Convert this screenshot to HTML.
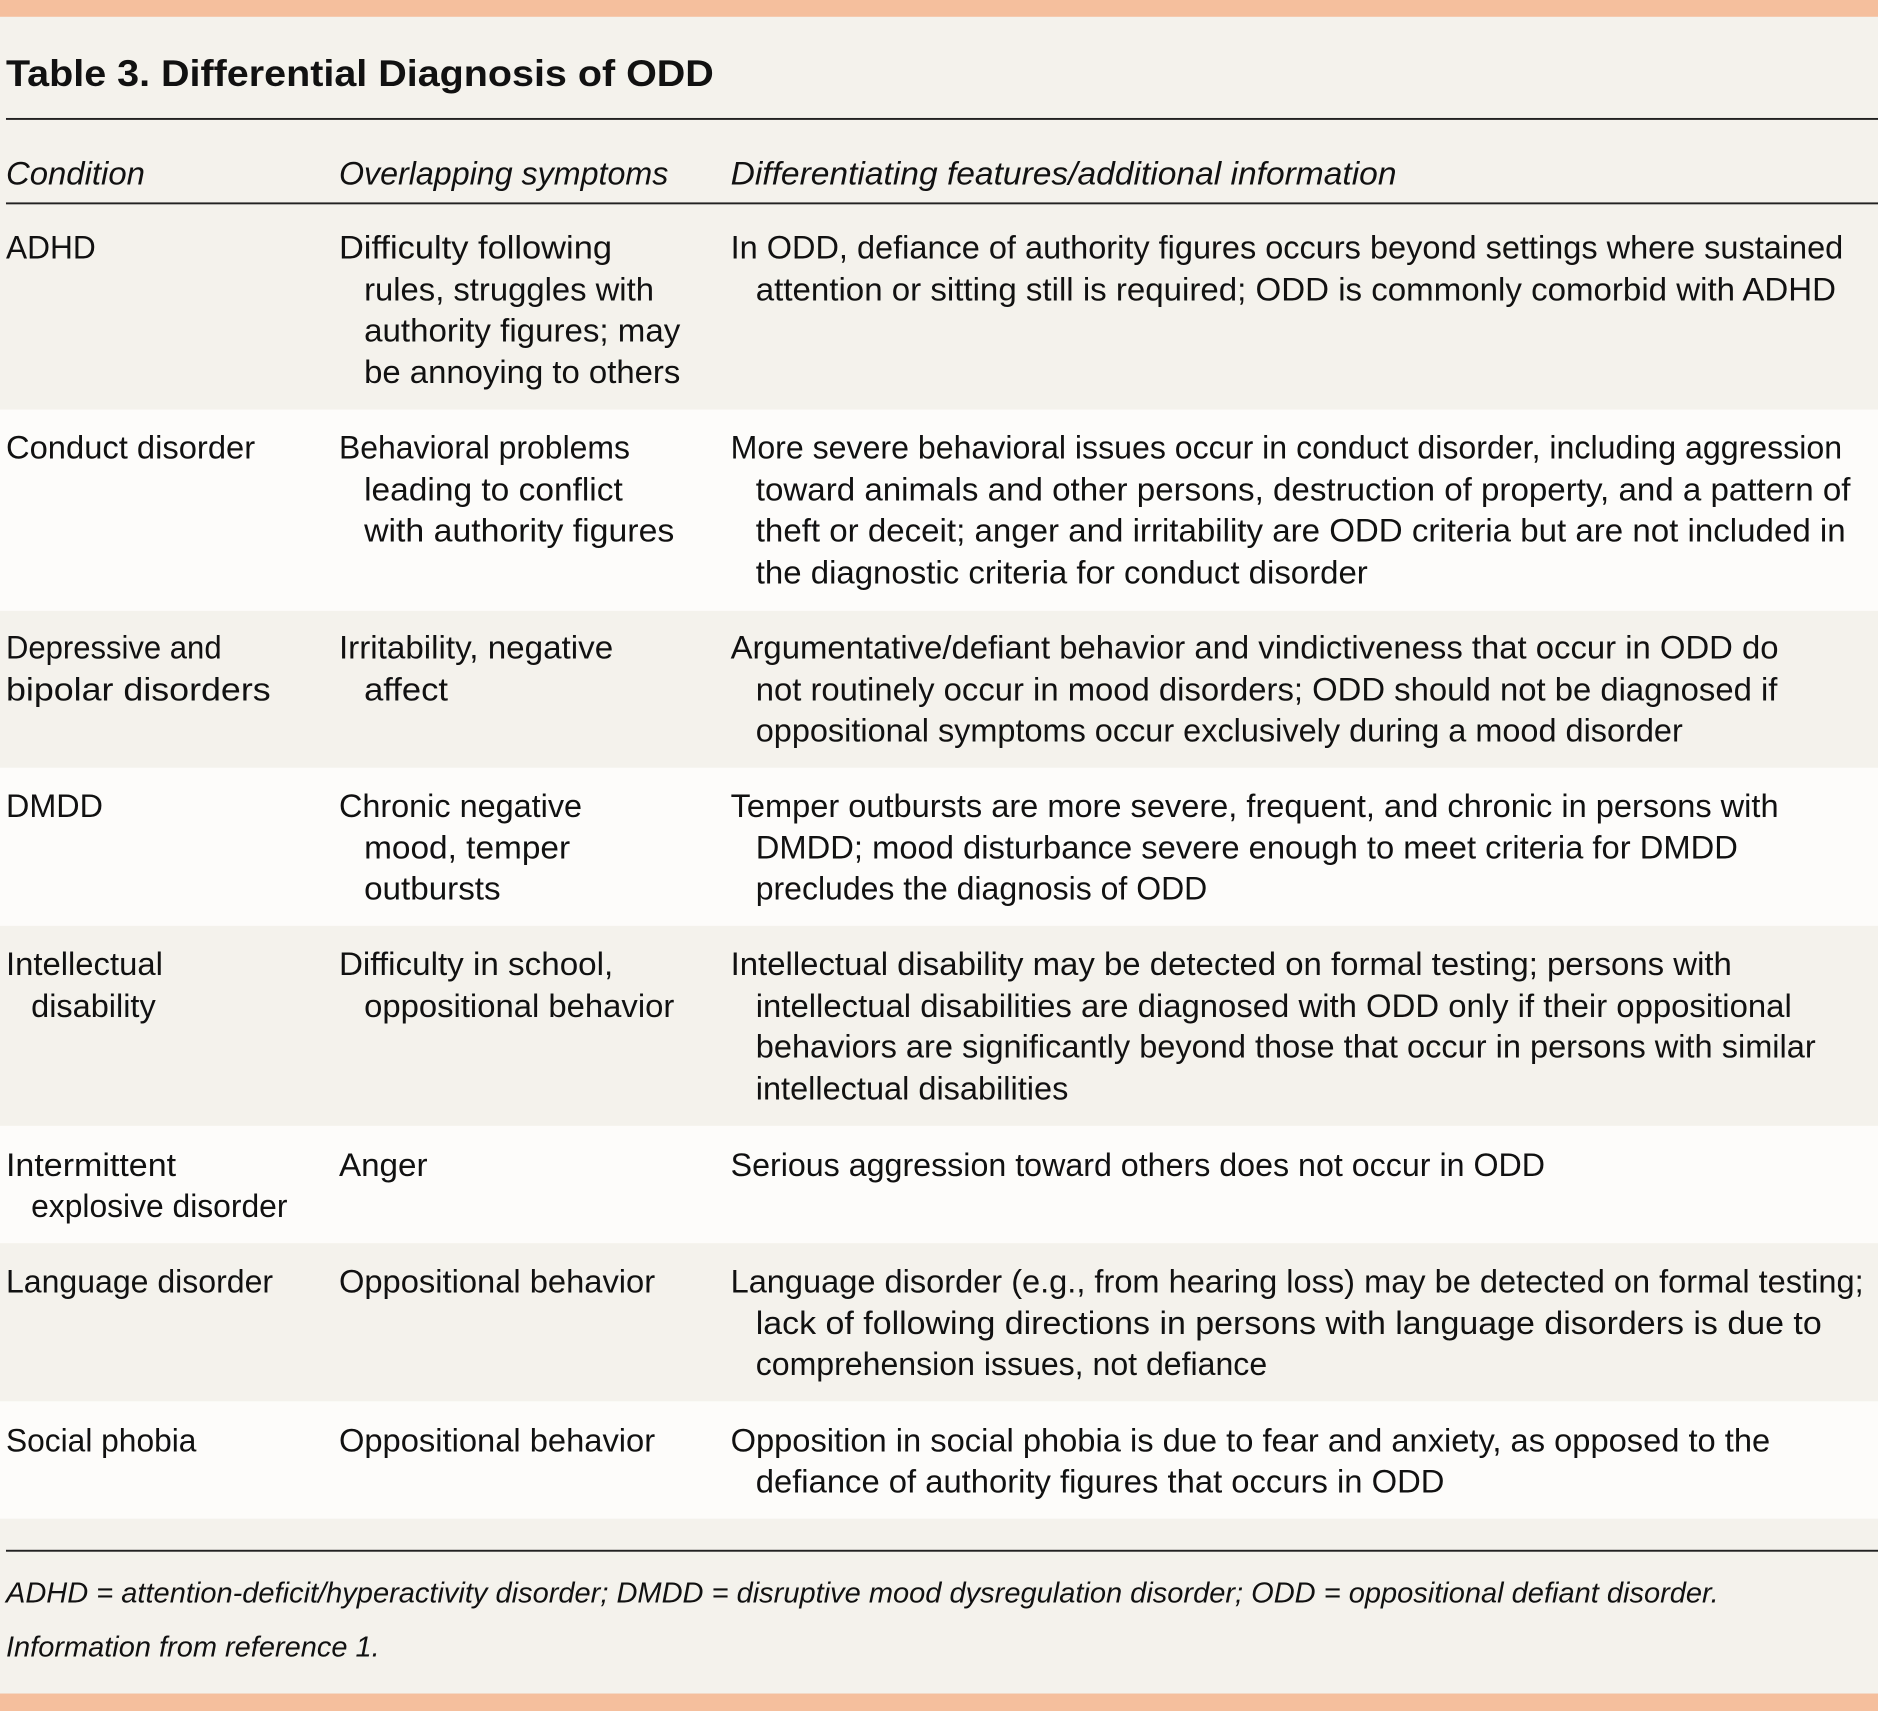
<!DOCTYPE html>
<html><head><meta charset="utf-8"><style>
html,body{margin:0;padding:0;background:#f4f2ec;}
svg{display:block;}
text{font-family:"Liberation Sans",sans-serif;font-size:27px;fill:#111;}
.i{font-style:italic;}
.b{font-weight:bold;font-size:31px;}
</style></head><body>
<svg width="1878" height="1711" viewBox="0 0 1568 1428.6" preserveAspectRatio="none" xmlns="http://www.w3.org/2000/svg">
<rect x="0" y="0" width="1568" height="1428.6" fill="#f4f2ec"/>
<rect x="0" y="0" width="1568" height="14" fill="#f5bf9d"/>
<rect x="0" y="1414" width="1568" height="15" fill="#f5bf9d"/>
<rect x="0" y="342" width="1568" height="168" fill="#fdfcfa"/>
<rect x="0" y="641" width="1568" height="132" fill="#fdfcfa"/>
<rect x="0" y="940" width="1568" height="98" fill="#fdfcfa"/>
<rect x="0" y="1170" width="1568" height="98" fill="#fdfcfa"/>
<rect x="5" y="98.5" width="1563" height="1.6" fill="#222"/>
<rect x="5" y="169" width="1563" height="1.6" fill="#222"/>
<rect x="5" y="1294" width="1563" height="1.6" fill="#222"/>

<g>
<text class="b" x="5" y="72" textLength="591" lengthAdjust="spacingAndGlyphs">Table 3. Differential Diagnosis of ODD</text>

<text class="i" x="5" y="154" textLength="116" lengthAdjust="spacingAndGlyphs">Condition</text>
<text class="i" x="283" y="154" textLength="275" lengthAdjust="spacingAndGlyphs">Overlapping symptoms</text>
<text class="i" x="610" y="154" textLength="556" lengthAdjust="spacingAndGlyphs">Differentiating features/additional information</text>

<text x="5" y="216" textLength="75" lengthAdjust="spacingAndGlyphs">ADHD</text>
<text x="283" y="216" textLength="228" lengthAdjust="spacingAndGlyphs">Difficulty following</text>
<text x="304" y="251" textLength="242" lengthAdjust="spacingAndGlyphs">rules, struggles with</text>
<text x="304" y="285" textLength="264" lengthAdjust="spacingAndGlyphs">authority figures; may</text>
<text x="304" y="320" textLength="264" lengthAdjust="spacingAndGlyphs">be annoying to others</text>
<text x="610" y="216" textLength="929" lengthAdjust="spacingAndGlyphs">In ODD, defiance of authority figures occurs beyond settings where sustained</text>
<text x="631" y="251" textLength="902" lengthAdjust="spacingAndGlyphs">attention or sitting still is required; ODD is commonly comorbid with ADHD</text>

<text x="5" y="383" textLength="208" lengthAdjust="spacingAndGlyphs">Conduct disorder</text>
<text x="283" y="383" textLength="243" lengthAdjust="spacingAndGlyphs">Behavioral problems</text>
<text x="304" y="418" textLength="216" lengthAdjust="spacingAndGlyphs">leading to conflict</text>
<text x="304" y="452" textLength="259" lengthAdjust="spacingAndGlyphs">with authority figures</text>
<text x="610" y="383" textLength="928" lengthAdjust="spacingAndGlyphs">More severe behavioral issues occur in conduct disorder, including aggression</text>
<text x="631" y="418" textLength="914" lengthAdjust="spacingAndGlyphs">toward animals and other persons, destruction of property, and a pattern of</text>
<text x="631" y="452" textLength="910" lengthAdjust="spacingAndGlyphs">theft or deceit; anger and irritability are ODD criteria but are not included in</text>
<text x="631" y="487" textLength="511" lengthAdjust="spacingAndGlyphs">the diagnostic criteria for conduct disorder</text>

<text x="5" y="550" textLength="180" lengthAdjust="spacingAndGlyphs">Depressive and</text>
<text x="5" y="585" textLength="221" lengthAdjust="spacingAndGlyphs">bipolar disorders</text>
<text x="283" y="550" textLength="229" lengthAdjust="spacingAndGlyphs">Irritability, negative</text>
<text x="304" y="585" textLength="70" lengthAdjust="spacingAndGlyphs">affect</text>
<text x="610" y="550" textLength="875" lengthAdjust="spacingAndGlyphs">Argumentative/defiant behavior and vindictiveness that occur in ODD do</text>
<text x="631" y="585" textLength="853" lengthAdjust="spacingAndGlyphs">not routinely occur in mood disorders; ODD should not be diagnosed if</text>
<text x="631" y="619" textLength="774" lengthAdjust="spacingAndGlyphs">oppositional symptoms occur exclusively during a mood disorder</text>

<text x="5" y="682" textLength="81" lengthAdjust="spacingAndGlyphs">DMDD</text>
<text x="283" y="682" textLength="203" lengthAdjust="spacingAndGlyphs">Chronic negative</text>
<text x="304" y="717" textLength="172" lengthAdjust="spacingAndGlyphs">mood, temper</text>
<text x="304" y="751" textLength="114" lengthAdjust="spacingAndGlyphs">outbursts</text>
<text x="610" y="682" textLength="875" lengthAdjust="spacingAndGlyphs">Temper outbursts are more severe, frequent, and chronic in persons with</text>
<text x="631" y="717" textLength="820" lengthAdjust="spacingAndGlyphs">DMDD; mood disturbance severe enough to meet criteria for DMDD</text>
<text x="631" y="751" textLength="377" lengthAdjust="spacingAndGlyphs">precludes the diagnosis of ODD</text>

<text x="5" y="814" textLength="131" lengthAdjust="spacingAndGlyphs">Intellectual</text>
<text x="26" y="849" textLength="104" lengthAdjust="spacingAndGlyphs">disability</text>
<text x="283" y="814" textLength="229" lengthAdjust="spacingAndGlyphs">Difficulty in school,</text>
<text x="304" y="849" textLength="259" lengthAdjust="spacingAndGlyphs">oppositional behavior</text>
<text x="610" y="814" textLength="836" lengthAdjust="spacingAndGlyphs">Intellectual disability may be detected on formal testing; persons with</text>
<text x="631" y="849" textLength="865" lengthAdjust="spacingAndGlyphs">intellectual disabilities are diagnosed with ODD only if their oppositional</text>
<text x="631" y="883" textLength="885" lengthAdjust="spacingAndGlyphs">behaviors are significantly beyond those that occur in persons with similar</text>
<text x="631" y="918" textLength="261" lengthAdjust="spacingAndGlyphs">intellectual disabilities</text>

<text x="5" y="982" textLength="142" lengthAdjust="spacingAndGlyphs">Intermittent</text>
<text x="26" y="1016" textLength="214" lengthAdjust="spacingAndGlyphs">explosive disorder</text>
<text x="283" y="982" textLength="74" lengthAdjust="spacingAndGlyphs">Anger</text>
<text x="610" y="982" textLength="680" lengthAdjust="spacingAndGlyphs">Serious aggression toward others does not occur in ODD</text>

<text x="5" y="1079" textLength="223" lengthAdjust="spacingAndGlyphs">Language disorder</text>
<text x="283" y="1079" textLength="264" lengthAdjust="spacingAndGlyphs">Oppositional behavior</text>
<text x="610" y="1079" textLength="946" lengthAdjust="spacingAndGlyphs">Language disorder (e.g., from hearing loss) may be detected on formal testing;</text>
<text x="631" y="1114" textLength="890" lengthAdjust="spacingAndGlyphs">lack of following directions in persons with language disorders is due to</text>
<text x="631" y="1148" textLength="427" lengthAdjust="spacingAndGlyphs">comprehension issues, not defiance</text>

<text x="5" y="1212" textLength="159" lengthAdjust="spacingAndGlyphs">Social phobia</text>
<text x="283" y="1212" textLength="264" lengthAdjust="spacingAndGlyphs">Oppositional behavior</text>
<text x="610" y="1212" textLength="868" lengthAdjust="spacingAndGlyphs">Opposition in social phobia is due to fear and anxiety, as opposed to the</text>
<text x="631" y="1246" textLength="575" lengthAdjust="spacingAndGlyphs">defiance of authority figures that occurs in ODD</text>

<text class="i" x="5" y="1338" style="font-size:24px" textLength="1430" lengthAdjust="spacingAndGlyphs">ADHD = attention-deficit/hyperactivity disorder; DMDD = disruptive mood dysregulation disorder; ODD = oppositional defiant disorder.</text>
<text class="i" x="5" y="1383" style="font-size:24px" textLength="312" lengthAdjust="spacingAndGlyphs">Information from reference 1.</text>
</g>
</svg>
</body></html>
